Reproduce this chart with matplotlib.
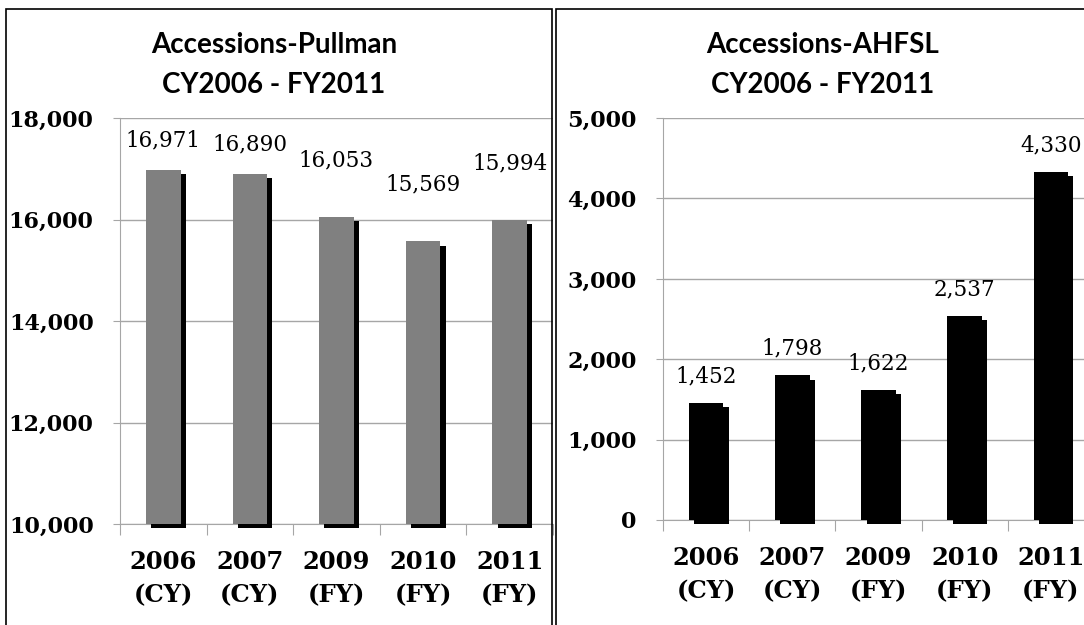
import numpy as np
import matplotlib
matplotlib.use("Agg")
import matplotlib.pyplot as plt
import matplotlib.patheffects as pe
from matplotlib.patches import Rectangle
from matplotlib.ticker import FuncFormatter

categories = ["2006\n(CY)", "2007\n(CY)", "2009\n(FY)", "2010\n(FY)", "2011\n(FY)"]
pullman = [16971, 16890, 16053, 15569, 15994]
ahfsl = [1452, 1798, 1622, 2537, 4330]

W, H = 1084, 625
fig = plt.figure(figsize=(W / 100, H / 100), dpi=100)

serif = "DejaVu Serif"
title_font = "Lato"
grid_c = "#a6a6a6"


def px(x0, y0, x1, y1):
    # pixel box (top-left origin) -> figure fraction rect
    return [x0 / W, 1 - y1 / H, (x1 - x0) / W, (y1 - y0) / H]


def setup(ax, ymin, ymax, step):
    x = np.arange(len(categories))
    ax.set_xlim(-0.5, len(categories) - 0.5)
    ax.set_ylim(ymin, ymax)
    ax.set_yticks(np.arange(ymin, ymax + 1, step))
    ax.yaxis.set_major_formatter(FuncFormatter(lambda v, p: f"{int(v):,}"))
    ax.set_xticks(np.arange(-0.5, len(categories), 1.0))
    ax.set_xticklabels([])
    ax.set_xticks(x, minor=True)
    ax.set_xticklabels(categories, minor=True, fontfamily=serif,
                       fontweight="bold", fontsize=17.5, linespacing=1.45)
    ax.tick_params(axis="x", which="major", length=8, color=grid_c, direction="out")
    ax.tick_params(axis="x", which="minor", length=0, pad=19)
    ax.tick_params(axis="y", length=5, color=grid_c, pad=14)
    for lab in ax.get_yticklabels():
        lab.set_fontfamily(serif)
        lab.set_fontweight("bold")
        lab.set_fontsize(16)
    ax.grid(axis="y", color=grid_c, lw=1)
    ax.set_axisbelow(True)
    for s in ["top", "right"]:
        ax.spines[s].set_visible(False)
    for s in ["left", "bottom"]:
        ax.spines[s].set_color(grid_c)
    return x


shadow = [pe.SimplePatchShadow(offset=(3.8, -3.0), shadow_rgbFace="black", alpha=1.0), pe.Normal()]

# left panel
ax1 = fig.add_axes(px(120, 118, 553, 524))
x = setup(ax1, 10000, 18000, 2000)
bars = ax1.bar(x, np.array(pullman) - 10000, bottom=10000, width=0.4,
               color="#808080", clip_on=False, zorder=3)
for b in bars:
    b.set_path_effects(shadow)
for xi, v in zip(x, pullman):
    ly = v + 1120 if v + 1120 < 17500 else v + 580
    ax1.text(xi, ly, f"{v:,}", ha="center", va="center", fontfamily=serif, fontsize=15.5)

# right panel
ax2 = fig.add_axes(px(663, 118, 1094, 520))
x = setup(ax2, 0, 5000, 1000)
bars = ax2.bar(x, ahfsl, width=0.4, color="black", clip_on=False, zorder=3)
for b in bars:
    b.set_path_effects(shadow)
for xi, v in zip(x, ahfsl):
    ax2.text(xi, v + 330, f"{v:,}", ha="center", va="center", fontfamily=serif, fontsize=15.5)

# titles
for cx, name in [(274, "Accessions-Pullman"), (823, "Accessions-AHFSL")]:
    fig.text(cx / W, 1 - 45 / H, name, ha="center", va="center",
             fontfamily=title_font, fontweight="bold", fontsize=20)
    fig.text(cx / W, 1 - 85 / H, "CY2006 - FY2011", ha="center", va="center",
             fontfamily=title_font, fontweight="bold", fontsize=20)

# panel borders
fig.patches.append(Rectangle((6 / W, -0.05), (552 - 6) / W, 1.05 - 9 / H,
                             transform=fig.transFigure, fill=False, ec="black", lw=1.2))
fig.patches.append(Rectangle((556 / W, -0.05), 0.6, 1.05 - 9 / H,
                             transform=fig.transFigure, fill=False, ec="black", lw=1.2))

fig.savefig("out.png", dpi=100)
